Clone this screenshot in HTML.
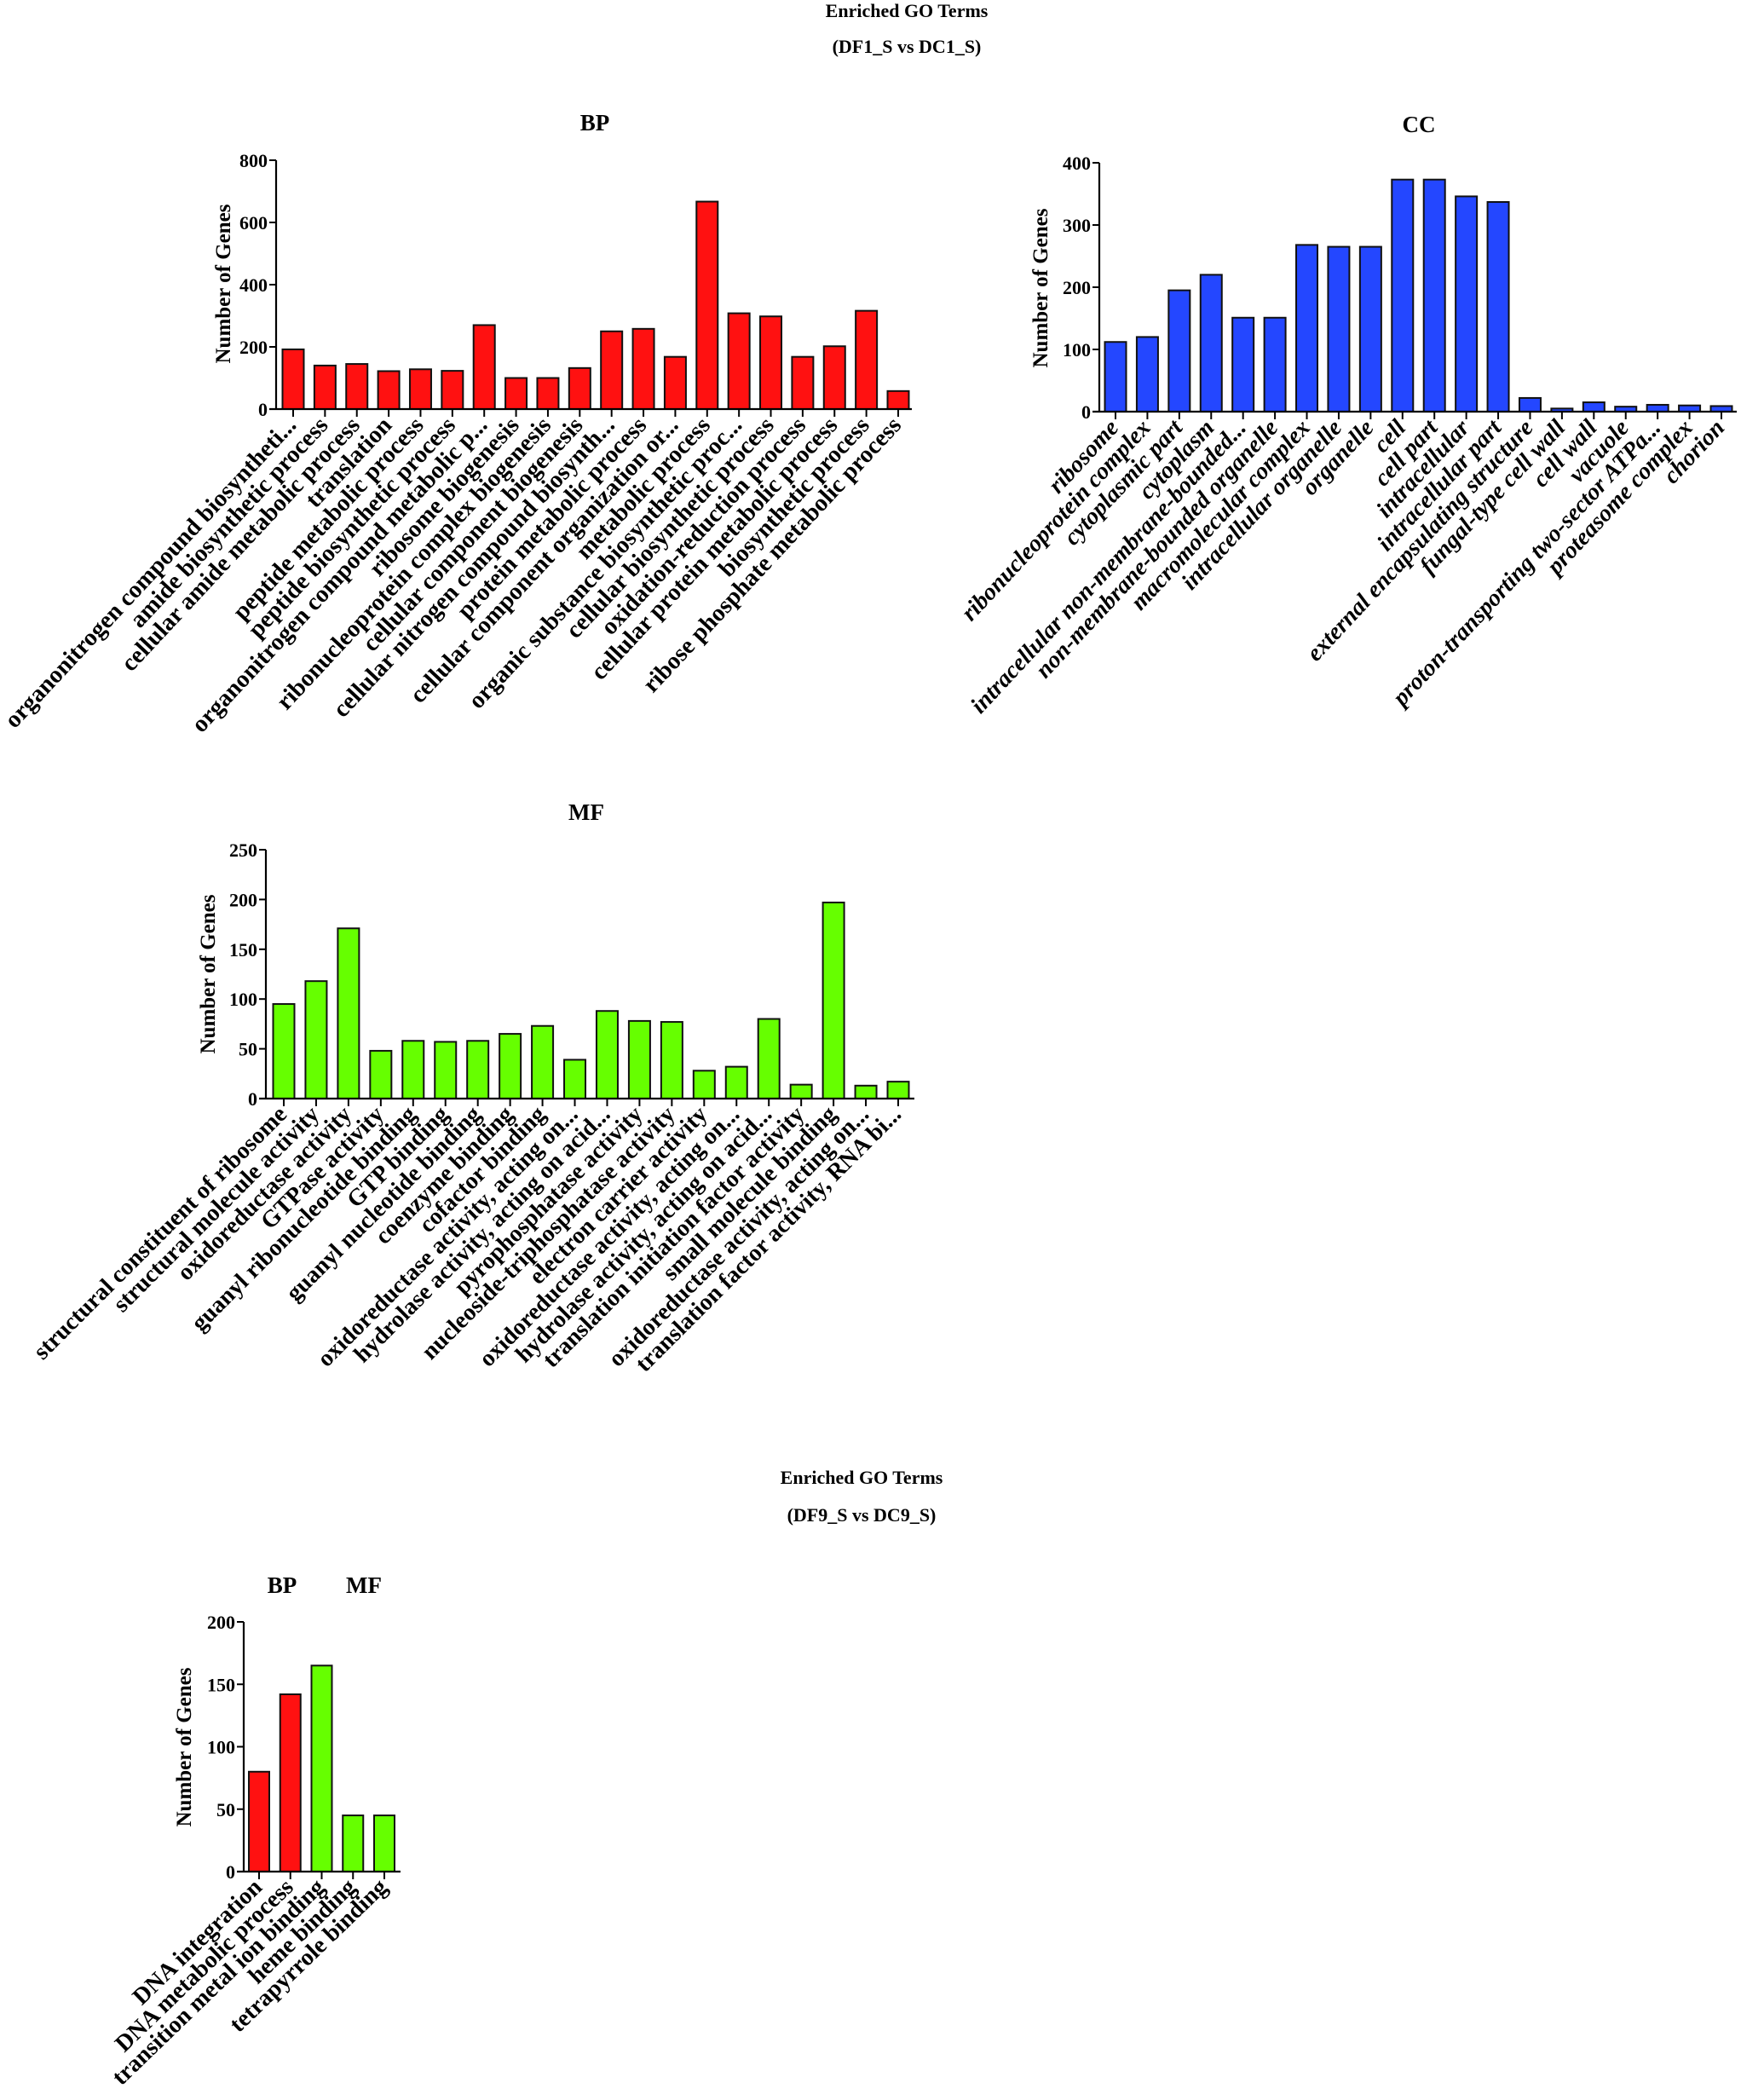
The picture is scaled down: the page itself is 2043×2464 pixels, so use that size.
<!DOCTYPE html>
<html><head><meta charset="utf-8"><title>Enriched GO Terms</title>
<style>
html,body{margin:0;padding:0;background:#fff;}
svg{display:block;font-family:"Liberation Serif",serif;font-weight:bold;}
</style></head>
<body>
<svg id="fig" width="2043" height="2464" viewBox="0 0 2043 2464" xmlns="http://www.w3.org/2000/svg">
<rect width="2043" height="2464" fill="#fff"/>
<text x="1064" y="20" text-anchor="middle" font-size="22">Enriched GO Terms</text>
<text x="1064" y="62" text-anchor="middle" font-size="22">(DF1_S vs DC1_S)</text>
<text x="1011" y="1741" text-anchor="middle" font-size="22">Enriched GO Terms</text>
<text x="1011" y="1785" text-anchor="middle" font-size="22">(DF9_S vs DC9_S)</text>
</svg>
<script>
// ---- BP (DF1 vs DC1) ----
const bpCategories = ["organonitrogen compound biosyntheti...","amide biosynthetic process","cellular amide metabolic process","translation","peptide metabolic process","peptide biosynthetic process","organonitrogen compound metabolic p...","ribosome biogenesis","ribonucleoprotein complex biogenesis","cellular component biogenesis","cellular nitrogen compound biosynth...","protein metabolic process","cellular component organization or...","metabolic process","organic substance biosynthetic proc...","cellular biosynthetic process","oxidation-reduction process","cellular protein metabolic process","biosynthetic process","ribose phosphate metabolic process"];
const bpValues = [192,140,145,122,128,123,270,100,100,132,250,258,168,667,308,298,168,202,316,58];
const bpTicks = [0,200,400,600,800];
// ---- CC ----
const ccCategories = ["ribosome","ribonucleoprotein complex","cytoplasmic part","cytoplasm","intracellular non-membrane-bounded...","non-membrane-bounded organelle","macromolecular complex","intracellular organelle","organelle","cell","cell part","intracellular","intracellular part","external encapsulating structure","fungal-type cell wall","cell wall","vacuole","proton-transporting two-sector ATPa...","proteasome complex","chorion"];
const ccValues = [112,120,195,220,151,151,268,265,265,373,373,346,337,22,5,15,8,11,10,9];
const ccTicks = [0,100,200,300,400];
// ---- MF ----
const mfCategories = ["structural constituent of ribosome","structural molecule activity","oxidoreductase activity","GTPase activity","guanyl ribonucleotide binding","GTP binding","guanyl nucleotide binding","coenzyme binding","cofactor binding","oxidoreductase activity, acting on...","hydrolase activity, acting on acid...","pyrophosphatase activity","nucleoside-triphosphatase activity","electron carrier activity","oxidoreductase activity, acting on...","hydrolase activity, acting on acid...","translation initiation factor activity","small molecule binding","oxidoreductase activity, acting on...","translation factor activity, RNA bi..."];
const mfValues = [95,118,171,48,58,57,58,65,73,39,88,78,77,28,32,80,14,197,13,17];
const mfTicks = [0,50,100,150,200,250];
// ---- DF9 vs DC9 ----
const d9Categories = ["DNA integration","DNA metabolic process","transition metal ion binding","heme binding","tetrapyrrole binding"];
const d9Values = [80,142,165,45,45];
const d9Groups = ["BP","BP","MF","MF","MF"];
const d9Ticks = [0,50,100,150,200];

const NS = "http://www.w3.org/2000/svg";
const svg = document.getElementById("fig");
function mk(tag, attrs, parent){
  const e = document.createElementNS(NS, tag);
  for (const k in attrs) e.setAttribute(k, attrs[k]);
  (parent||svg).appendChild(e);
  return e;
}
const COLORS = {BP:"#ff1111", CC:"#2447ff", MF:"#66ff00"};

function drawChart(o){
  const g = mk("g", {});
  
  
  const ymax = o.ticks[o.ticks.length-1];
  const yScale = v => o.y0 - (v / ymax) * (o.y0 - o.yTop);
  const n = o.cats.length;
  const pitch = n > 1 ? (o.lastTick - o.firstTick) / (n - 1) : 0;
  const xScale = i => o.firstTick + i * pitch;
  o.vals.forEach((v, i) => {
    const cx = xScale(i);
    const r = mk("rect", {x: cx - o.bw/2, y: yScale(v), width: o.bw, height: o.y0 - yScale(v),
      fill: COLORS[o.groups ? o.groups[i] : o.group], stroke: "#111", "stroke-width": 2}, g);
    
    
  });
  const ya = mk("line", {x1:o.x0, y1:o.yTop, x2:o.x0, y2:o.y0, stroke:"#000", "stroke-width":2.2}, g);
  
  
  const xa = mk("line", {x1:o.x0-8, y1:o.y0, x2:o.xEnd, y2:o.y0, stroke:"#000", "stroke-width":2.2}, g);
  
  
  o.ticks.forEach(t => {
    const y = yScale(t);
    mk("line", {x1:o.x0-8, y1:y, x2:o.x0, y2:y, stroke:"#000", "stroke-width":2}, g);
    const tl = mk("text", {x:o.x0-10, y:y+8, "text-anchor":"end", "font-size":o.tickFs}, g);
    
    
    tl.textContent = t;
  });
  o.cats.forEach((c, i) => {
    const x = xScale(i);
    mk("line", {x1:x, y1:o.y0, x2:x, y2:o.y0+9, stroke:"#000", "stroke-width":2}, g);
    const ax = x + 5, ay = o.y0 + 20;
    const t = mk("text", {x:ax, y:ay, "text-anchor":"end", "font-size":o.labFs,
      transform:"rotate(" + (-o.angle) + " "+ax+" "+ay+")", "font-style": o.italic ? "italic" : "normal"}, g);
    
    
    t.textContent = c;
  });
  const yt = mk("text", {x:o.yTitleX, y:o.yTitleY, "text-anchor":"middle", "font-size":o.yTitleFs,
    transform:"rotate(-90 "+o.yTitleX+" "+o.yTitleY+")"}, g);
  
  
  yt.textContent = "Number of Genes";
  o.titles.forEach(tt => {
    const te = mk("text", {x:tt.x, y:tt.y, "text-anchor":"middle", "font-size":27}, g);
    
    
    te.textContent = tt.t;
  });
}

drawChart({name:"bp", cats:bpCategories, vals:bpValues, ticks:bpTicks, group:"BP",
  x0:324, xEnd:1070, y0:480, yTop:188, firstTick:344, lastTick:1054, bw:25,
  tickFs:22, labFs:28.5, angle:47, italic:false, yTitleX:270, yTitleY:333, yTitleFs:25,
  titles:[{t:"BP", x:698, y:153}]});
drawChart({name:"cc", cats:ccCategories, vals:ccValues, ticks:ccTicks, group:"CC",
  x0:1290, xEnd:2038, y0:483, yTop:191, firstTick:1309, lastTick:2020, bw:25,
  tickFs:22, labFs:28, angle:47, italic:true, yTitleX:1229, yTitleY:338, yTitleFs:25,
  titles:[{t:"CC", x:1665, y:155}]});
drawChart({name:"mf", cats:mfCategories, vals:mfValues, ticks:mfTicks, group:"MF",
  x0:312, xEnd:1073, y0:1289, yTop:997, firstTick:333, lastTick:1054, bw:25,
  tickFs:22, labFs:28, angle:45, italic:false, yTitleX:252, yTitleY:1143, yTitleFs:25,
  titles:[{t:"MF", x:688, y:962}]});
drawChart({name:"df9", cats:d9Categories, vals:d9Values, ticks:d9Ticks, groups:d9Groups,
  x0:286, xEnd:470, y0:2196, yTop:1903, firstTick:304, lastTick:451, bw:24,
  tickFs:22, labFs:28, angle:44, italic:false, yTitleX:224, yTitleY:2050, yTitleFs:25,
  titles:[{t:"BP", x:331, y:1869},{t:"MF", x:427, y:1869}]});
</script>
</body></html>
